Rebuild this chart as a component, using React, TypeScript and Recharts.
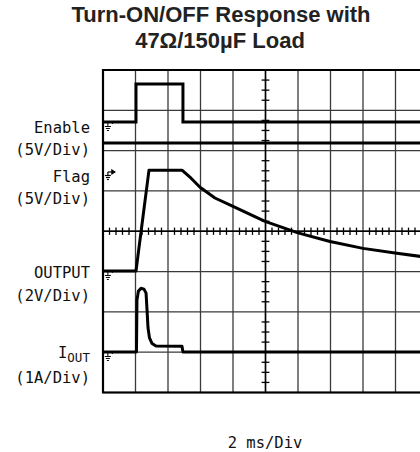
import {
  LineChart,
  Line,
  XAxis,
  YAxis,
  CartesianGrid,
  ReferenceLine,
  ReferenceArea,
  ReferenceDot,
} from "recharts";

// time base: 2 ms/div, 10 divisions
const timeTicks = [0, 2, 4, 6, 8, 10, 12, 14, 16, 18, 20];
// vertical: 8 divisions
const divTicks = [0, 1, 2, 3, 4, 5, 6, 7, 8];

// Enable (5V/div)
const enableT = [0, 2.03, 2.03, 4.92, 4.92, 20];
const enableV = [0, 0, 4.7, 4.7, 0, 0];

// Flag (5V/div)
const flagT = [0, 20];
const flagV = [3.35, 3.35];

// OUTPUT (2V/div)
const outT = [0, 2.03, 2.83, 4.86, 5.42, 5.97, 6.89, 8.0, 9.97, 12.0, 13.97, 16.0, 17.97, 20];
const outV = [0, 0, 5.0, 5.0, 4.6, 4.15, 3.62, 3.2, 2.46, 1.89, 1.46, 1.12, 0.89, 0.67];

// IOUT (1A/div)
const ioutT = [0, 2.06, 2.09, 2.18, 2.34, 2.52, 2.65, 2.71, 2.77, 2.86, 3.02, 3.26, 4.86, 4.92, 20];
const ioutA = [0, 0, 1.29, 1.51, 1.58, 1.56, 1.46, 1.04, 0.6, 0.35, 0.21, 0.15, 0.14, 0, 0];

// channel ground level (div from bottom) and scale (units/div)
const channels = {
  enable: { ground: 6.71, perDiv: 5 },
  flag: { ground: 5.52, perDiv: 5 },
  output: { ground: 3.015, perDiv: 2 },
  iout: { ground: 1.005, perDiv: 1 },
};

const toTrace = (ts: number[], vs: number[], ch: { ground: number; perDiv: number }) =>
  ts.map((t, i) => ({ t, y: ch.ground + vs[i] / ch.perDiv }));

const enableData = toTrace(enableT, enableV, channels.enable);
const flagData = toTrace(flagT, flagV, channels.flag);
const outData = toTrace(outT, outV, channels.output);
const ioutData = toTrace(ioutT, ioutA, channels.iout);

// minor graticule ticks on the centre axes
const hTicks: number[] = [];
for (let k = 1; k < 50; k++) if (k % 5 !== 0) hTicks.push(k * 0.4);
const vTicks: number[] = [];
for (let k = 1; k < 32; k++) if (k % 4 !== 0) vTicks.push(k * 0.25);

const Ground = (props: any) => {
  const { cx, cy } = props;
  return (
    <g stroke="#000" strokeWidth={1} fill="none">
      <line x1={cx} y1={cy + 1} x2={cx} y2={cy + 4} />
      <line x1={cx - 3} y1={cy + 4.5} x2={cx + 3} y2={cy + 4.5} />
      <line x1={cx - 2} y1={cy + 6.5} x2={cx + 2} y2={cy + 6.5} />
      <line x1={cx - 1} y1={cy + 8.5} x2={cx + 1} y2={cy + 8.5} />
      <line x1={cx + 4} y1={cy + 2} x2={cx + 5} y2={cy + 1} />
    </g>
  );
};

const FlagGround = (props: any) => {
  const { cx, cy } = props;
  return (
    <g stroke="#000" strokeWidth={1.2} fill="none">
      <line x1={cx} y1={cy + 2} x2={cx} y2={cy + 5} />
      <line x1={cx} y1={cy + 2} x2={cx + 5} y2={cy + 2} />
      <path d={`M${cx + 4},${cy} L${cx + 7},${cy + 2} L${cx + 4},${cy + 4} Z`} fill="#000" />
      <line x1={cx - 3} y1={cy + 5.5} x2={cx + 3} y2={cy + 5.5} />
      <line x1={cx - 2} y1={cy + 7.5} x2={cx + 2} y2={cy + 7.5} />
      <line x1={cx - 1} y1={cy + 9.5} x2={cx + 1} y2={cy + 9.5} />
    </g>
  );
};

const labelFont = "'DejaVu Sans Mono', monospace";

const App = () => {
  return (
    <div
      style={{
        position: "absolute",
        left: 0,
        top: 0,
        width: 420,
        height: 452,
        overflow: "hidden",
        background: "#fff",
      }}
    >
      <LineChart
        width={440}
        height={452}
        margin={{ top: 70, right: 12, bottom: 59.5, left: 103 }}
      >
        <XAxis type="number" dataKey="t" domain={[0, 20]} ticks={timeTicks} hide />
        <YAxis type="number" dataKey="y" domain={[0, 8]} ticks={divTicks} hide />
        <CartesianGrid stroke="#3a3a3a" strokeWidth={1.3} />
        {hTicks.map((t) => (
          <ReferenceLine
            key={"h" + t}
            segment={[
              { x: t, y: 3.91 },
              { x: t, y: 4.09 },
            ]}
            stroke="#000"
            strokeWidth={1.3}
          />
        ))}
        {vTicks.map((v) => (
          <ReferenceLine
            key={"v" + v}
            segment={[
              { x: 9.76, y: v },
              { x: 10.24, y: v },
            ]}
            stroke="#000"
            strokeWidth={1.3}
          />
        ))}
        <ReferenceLine y={4} stroke="#000" strokeWidth={1.5} />
        <ReferenceLine x={10} stroke="#000" strokeWidth={1.5} />
        <ReferenceArea
          x1={0}
          x2={20}
          y1={0}
          y2={8}
          fill="none"
          fillOpacity={0}
          stroke="#000"
          strokeWidth={2.2}
        />
        <ReferenceDot x={0.3} y={channels.enable.ground} r={0} shape={Ground} />
        <ReferenceDot x={0.3} y={channels.flag.ground} r={0} shape={FlagGround} />
        <ReferenceDot x={0.3} y={channels.output.ground} r={0} shape={Ground} />
        <ReferenceDot x={0.3} y={channels.iout.ground} r={0} shape={Ground} />
        <Line data={enableData} dataKey="y" type="linear" stroke="#000" strokeWidth={3} dot={false} isAnimationActive={false} />
        <Line data={flagData} dataKey="y" type="linear" stroke="#000" strokeWidth={3} dot={false} isAnimationActive={false} />
        <Line data={outData} dataKey="y" type="linear" stroke="#000" strokeWidth={3} dot={false} strokeLinejoin="round" isAnimationActive={false} />
        <Line data={ioutData} dataKey="y" type="linear" stroke="#000" strokeWidth={3} dot={false} strokeLinejoin="round" isAnimationActive={false} />
      </LineChart>
      <svg
        width={420}
        height={452}
        style={{ position: "absolute", left: 0, top: 0, pointerEvents: "none" }}
      >
        <g fontFamily="'Liberation Sans', Arial, sans-serif" fontWeight="bold" fontSize={22} fill="#222" textAnchor="middle">
          <text x={221} y={21.5}>Turn-ON/OFF Response with</text>
          <text x={220} y={47.5}>47Ω/150µF Load</text>
        </g>
        <g fontFamily={labelFont} fontSize={15.5} fill="#111" textAnchor="end">
          <text x={90} y={133}>Enable</text>
          <text x={90} y={155}>(5V/Div)</text>
          <text x={90} y={181.5}>Flag</text>
          <text x={90} y={203.5}>(5V/Div)</text>
          <text x={90} y={278}>OUTPUT</text>
          <text x={90} y={300.5}>(2V/Div)</text>
          <text x={90} y={383}>(1A/Div)</text>
        </g>
        <text x={58} y={357.5} fontFamily={labelFont} fontSize={15.5} fill="#111">
          I
          <tspan fontSize={12.5} dy={4}>OUT</tspan>
        </text>
        <text x={265} y={447.5} fontFamily={labelFont} fontSize={15.5} fill="#111" textAnchor="middle">
          2 ms/Div
        </text>
      </svg>
    </div>
  );
};

export default App;
